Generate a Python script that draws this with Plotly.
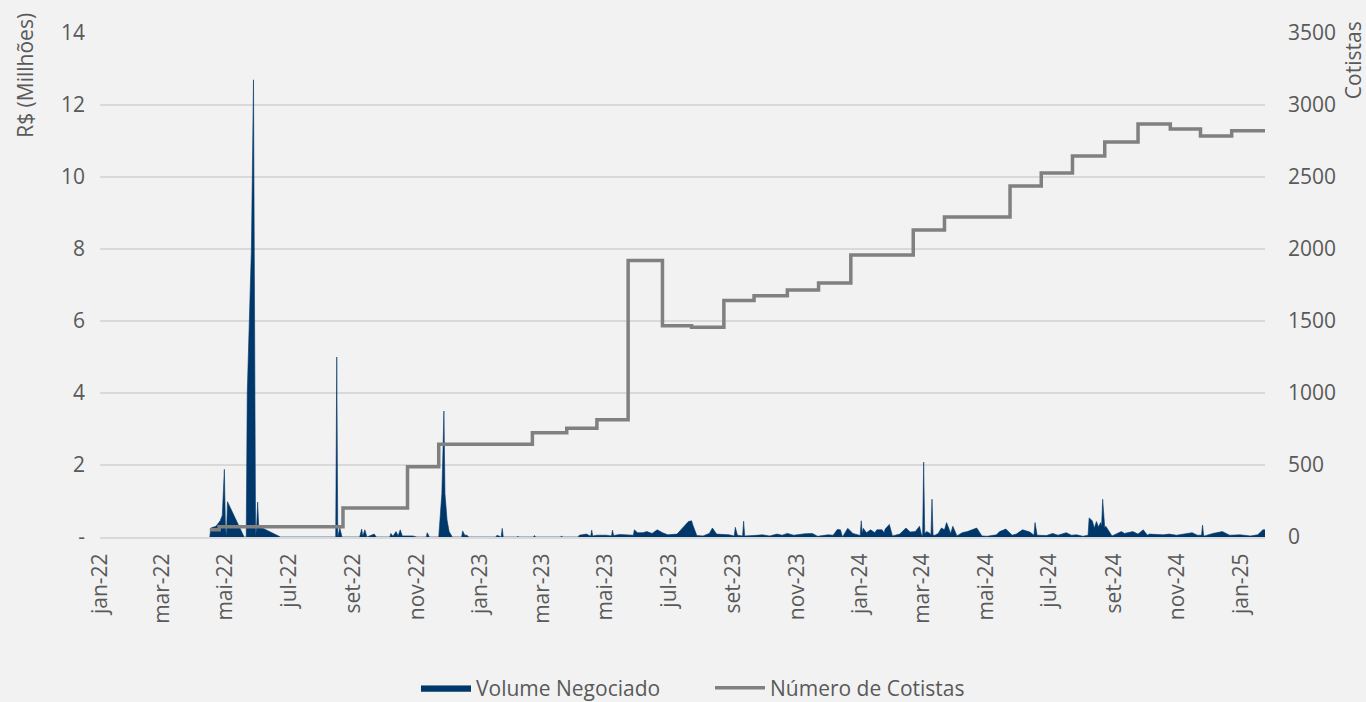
import plotly.graph_objects as go

# ---------------- data ----------------
TICK_DATES = ["2022-01-01", "2022-03-01", "2022-05-01", "2022-07-01", "2022-09-01", "2022-11-01",
              "2023-01-01", "2023-03-01", "2023-05-01", "2023-07-01", "2023-09-01", "2023-11-01",
              "2024-01-01", "2024-03-01", "2024-05-01", "2024-07-01", "2024-09-01", "2024-11-01",
              "2025-01-01"]
TICK_LABELS = ["jan-22", "mar-22", "mai-22", "jul-22", "set-22", "nov-22",
               "jan-23", "mar-23", "mai-23", "jul-23", "set-23", "nov-23",
               "jan-24", "mar-24", "mai-24", "jul-24", "set-24", "nov-24",
               "jan-25"]

LEFT_TICKS = [0, 2, 4, 6, 8, 10, 12, 14]
LEFT_LABELS = ["-", "2", "4", "6", "8", "10", "12", "14"]
RIGHT_TICKS = [0, 500, 1000, 1500, 2000, 2500, 3000, 3500]

# Volume negociado (R$ milhões) - (date, value)
VOL_2022 = [
    ("2022-04-16", 0), ("2022-04-17", 0.25), ("2022-04-22", 0.3), ("2022-04-26", 0.45),
    ("2022-04-28", 0.6), ("2022-04-30", 1.88), ("2022-05-01", 0.3), ("2022-05-02", 0.0),
    ("2022-05-03", 0.98), ("2022-05-11", 0.5), ("2022-05-19", 0.0), ("2022-05-21", 0.0),
    ("2022-05-22", 4.0), ("2022-05-24", 6.0), ("2022-05-26", 8.0), ("2022-05-28", 12.7),
    ("2022-05-29", 5.0), ("2022-05-30", 0.0), ("2022-05-31", 0.3), ("2022-06-01", 0.97),
    ("2022-06-02", 0.3), ("2022-06-12", 0.15), ("2022-06-23", 0.0),
    ("2022-08-15", 0.0), ("2022-08-16", 5.0), ("2022-08-17", 0.0), ("2022-08-19", 0.25),
    ("2022-08-21", 0.0), ("2022-09-07", 0.0), ("2022-09-09", 0.22), ("2022-09-10", 0.02),
    ("2022-09-12", 0.2), ("2022-09-14", 0.0), ("2022-09-21", 0.08), ("2022-09-23", 0.0),
    ("2022-10-06", 0.0), ("2022-10-07", 0.1), ("2022-10-09", 0.02), ("2022-10-12", 0.15),
    ("2022-10-14", 0.03), ("2022-10-16", 0.2), ("2022-10-18", 0.03), ("2022-10-28", 0.03),
    ("2022-11-01", 0.0), ("2022-11-10", 0.0), ("2022-11-11", 0.12), ("2022-11-13", 0.0),
    ("2022-11-22", 0.0), ("2022-11-25", 1.2), ("2022-11-26", 2.3), ("2022-11-27", 3.5),
    ("2022-11-28", 1.2), ("2022-11-30", 0.47), ("2022-12-02", 0.15), ("2022-12-05", 0.0),
    ("2022-12-14", 0.0), ("2022-12-15", 0.17), ("2022-12-17", 0.05), ("2022-12-19", 0.05),
    ("2022-12-21", 0.0),
]
VOL_2023 = [
    ("2023-01-16", 0.0), ("2023-01-17", 0.05), ("2023-01-21", 0.0), ("2023-01-22", 0.24),
    ("2023-01-23", 0.0), ("2023-02-05", 0.0), ("2023-02-06", 0.02), ("2023-02-07", 0.0),
    ("2023-02-21", 0.0), ("2023-02-22", 0.04), ("2023-02-23", 0.0), ("2023-03-19", 0.0),
    ("2023-03-20", 0.03), ("2023-03-21", 0.0), ("2023-04-05", 0.0), ("2023-04-06", 0.05),
    ("2023-04-13", 0.08), ("2023-04-17", 0.02), ("2023-04-18", 0.19), ("2023-04-19", 0.03),
    ("2023-04-23", 0.05), ("2023-05-02", 0.05), ("2023-05-07", 0.03), ("2023-05-08", 0.19),
    ("2023-05-09", 0.04), ("2023-05-15", 0.07), ("2023-05-22", 0.07), ("2023-05-28", 0.05),
    ("2023-05-29", 0.2), ("2023-06-01", 0.12), ("2023-06-06", 0.12), ("2023-06-10", 0.15),
    ("2023-06-15", 0.1), ("2023-06-20", 0.2), ("2023-06-25", 0.12), ("2023-06-30", 0.06),
    ("2023-07-09", 0.08), ("2023-07-13", 0.2), ("2023-07-18", 0.38), ("2023-07-20", 0.43),
    ("2023-07-23", 0.45), ("2023-07-24", 0.35), ("2023-07-28", 0.04), ("2023-08-03", 0.03),
    ("2023-08-09", 0.1), ("2023-08-12", 0.25), ("2023-08-16", 0.08), ("2023-08-22", 0.08),
    ("2023-08-28", 0.06), ("2023-09-02", 0.03), ("2023-09-03", 0.27), ("2023-09-05", 0.05),
    ("2023-09-10", 0.03), ("2023-09-11", 0.44), ("2023-09-12", 0.03), ("2023-09-20", 0.04),
    ("2023-09-29", 0.06), ("2023-10-06", 0.03), ("2023-10-13", 0.08), ("2023-10-18", 0.05),
    ("2023-10-23", 0.1), ("2023-10-29", 0.05), ("2023-11-02", 0.07), ("2023-11-09", 0.09),
    ("2023-11-16", 0.1), ("2023-11-21", 0.02), ("2023-12-01", 0.06), ("2023-12-06", 0.05),
    ("2023-12-10", 0.21), ("2023-12-13", 0.2), ("2023-12-15", 0.0), ("2023-12-20", 0.24),
    ("2023-12-25", 0.1), ("2023-12-30", 0.05),
]
VOL_2024 = [
    ("2024-01-01", 0.04), ("2024-01-02", 0.45), ("2024-01-03", 0.1), ("2024-01-04", 0.24),
    ("2024-01-07", 0.12), ("2024-01-11", 0.2), ("2024-01-15", 0.12), ("2024-01-17", 0.2),
    ("2024-01-22", 0.2), ("2024-01-24", 0.12), ("2024-01-25", 0.22), ("2024-01-29", 0.35),
    ("2024-02-01", 0.03), ("2024-02-08", 0.08), ("2024-02-14", 0.25), ("2024-02-18", 0.14),
    ("2024-02-23", 0.15), ("2024-02-27", 0.3), ("2024-02-29", 0.05), ("2024-03-01", 0.05),
    ("2024-03-02", 2.08), ("2024-03-03", 0.1), ("2024-03-05", 0.15), ("2024-03-08", 0.1),
    ("2024-03-09", 0.05), ("2024-03-10", 1.05), ("2024-03-11", 0.05), ("2024-03-13", 0.05),
    ("2024-03-16", 0.1), ("2024-03-19", 0.25), ("2024-03-22", 0.2), ("2024-03-24", 0.4),
    ("2024-03-28", 0.1), ("2024-03-30", 0.3), ("2024-04-03", 0.03), ("2024-04-08", 0.12),
    ("2024-04-13", 0.15), ("2024-04-22", 0.25), ("2024-04-27", 0.03), ("2024-05-02", 0.02),
    ("2024-05-11", 0.06), ("2024-05-14", 0.15), ("2024-05-20", 0.22), ("2024-05-26", 0.05),
    ("2024-05-30", 0.08), ("2024-06-05", 0.2), ("2024-06-12", 0.14), ("2024-06-16", 0.05),
    ("2024-06-17", 0.4), ("2024-06-19", 0.05), ("2024-06-28", 0.04), ("2024-07-04", 0.1),
    ("2024-07-09", 0.05), ("2024-07-17", 0.12), ("2024-07-22", 0.05), ("2024-07-27", 0.06),
    ("2024-08-02", 0.02), ("2024-08-07", 0.05), ("2024-08-08", 0.53), ("2024-08-11", 0.45),
    ("2024-08-13", 0.25), ("2024-08-15", 0.43), ("2024-08-17", 0.28), ("2024-08-19", 0.4),
    ("2024-08-20", 0.3), ("2024-08-21", 1.05), ("2024-08-23", 0.25), ("2024-08-24", 0.3),
    ("2024-08-26", 0.2), ("2024-08-30", 0.03), ("2024-09-04", 0.1), ("2024-09-08", 0.15),
    ("2024-09-11", 0.1), ("2024-09-19", 0.15), ("2024-09-24", 0.08), ("2024-09-29", 0.2),
    ("2024-10-03", 0.05), ("2024-10-05", 0.08), ("2024-10-18", 0.06), ("2024-10-24", 0.08),
    ("2024-10-31", 0.05), ("2024-11-10", 0.1), ("2024-11-15", 0.12), ("2024-11-20", 0.05),
    ("2024-11-24", 0.05), ("2024-11-25", 0.33), ("2024-11-26", 0.05), ("2024-11-27", 0.03),
    ("2024-12-05", 0.1), ("2024-12-14", 0.15), ("2024-12-21", 0.05), ("2024-12-31", 0.06),
]
VOL_2025 = [
    ("2025-01-10", 0.03), ("2025-01-17", 0.06), ("2025-01-22", 0.2), ("2025-01-24", 0.2),
]

# Número de cotistas (step series)
COT_DATES = ["2022-04-16", "2022-04-25", "2022-08-22", "2022-10-23", "2022-11-22", "2023-02-20",
             "2023-03-25", "2023-04-23", "2023-05-23", "2023-06-25", "2023-07-23", "2023-08-23",
             "2023-09-21", "2023-10-23", "2023-11-22", "2023-12-23", "2024-02-21", "2024-03-22",
             "2024-05-24", "2024-06-23", "2024-07-23", "2024-08-23", "2024-09-24", "2024-10-25",
             "2024-11-23", "2024-12-23", "2025-01-24"]
COT_VALUES = [50, 72, 201, 488, 644, 724, 755, 815, 1920, 1467, 1456, 1643,
              1675, 1715, 1764, 1958, 2132, 2222, 2437, 2528, 2646, 2743, 2868, 2833,
              2785, 2821, 2821]

# ---------------- figure ----------------
vol = VOL_2022 + VOL_2023 + VOL_2024 + VOL_2025
vol_dates = [d for d, _ in vol]
vol_values = [v for _, v in vol]

NAVY = "#00376A"
GREY = "#808080"
TXT = "#595959"
FONT = "Open Sans"
FS = 21

fig = go.Figure()
fig.add_trace(go.Scatter(
    x=vol_dates, y=vol_values, name="Volume Negociado",
    mode="lines", fill="tozeroy", fillcolor=NAVY,
    line=dict(color=NAVY, width=0.6), yaxis="y",
))
fig.add_trace(go.Scatter(
    x=COT_DATES, y=COT_VALUES, name="Número de Cotistas",
    mode="lines", line=dict(color=GREY, width=3.5, shape="hv"), yaxis="y2",
))

fig.update_layout(
    width=1366, height=702,
    paper_bgcolor="#F2F2F2", plot_bgcolor="#F2F2F2",
    margin=dict(l=100, r=101, t=33, b=165, autoexpand=False),
    font=dict(family=FONT, size=FS, color=TXT),
    showlegend=True,
    legend=dict(orientation="h", x=0.5236, xanchor="center", y=-0.300, yanchor="middle",
                font=dict(family=FONT, size=FS, color=TXT), bgcolor="rgba(0,0,0,0)",
                itemwidth=50, entrywidth=229, tracegroupgap=0),
    xaxis=dict(
        type="date", range=["2021-12-31 12:00", "2025-01-24"],
        tickmode="array", tickvals=TICK_DATES, ticktext=TICK_LABELS,
        tickangle=-90, showgrid=False, zeroline=False,
        showline=True, linecolor="#D9D9D9", linewidth=2,
        ticks="", ticklabelstandoff=6,
        tickfont=dict(family=FONT, size=FS, color=TXT),
    ),
    yaxis=dict(
        range=[0, 14], tickmode="array", tickvals=LEFT_TICKS, ticktext=LEFT_LABELS,
        showgrid=True, gridcolor="#D9D9D9", gridwidth=2, zeroline=False,
        ticks="", ticklabelstandoff=14, showline=False,
        tickfont=dict(family=FONT, size=FS, color=TXT),
    ),
    yaxis2=dict(
        range=[0, 3500], tickmode="array", tickvals=RIGHT_TICKS,
        ticktext=[str(v) for v in RIGHT_TICKS],
        overlaying="y", side="right", showgrid=False, zeroline=False,
        ticks="", ticklabelstandoff=22, showline=False,
        tickfont=dict(family=FONT, size=FS, color=TXT),
    ),
    annotations=[
        dict(text="R$ (Millhões)", xref="paper", yref="paper", x=-0.0644, y=0.917,
             textangle=-90, showarrow=False, xanchor="center", yanchor="middle",
             font=dict(family=FONT, size=FS, color=TXT)),
        dict(text="Cotistas", xref="paper", yref="paper", x=1.0755, y=0.946,
             textangle=-90, showarrow=False, xanchor="center", yanchor="middle",
             font=dict(family=FONT, size=FS, color=TXT)),
    ],
)

fig.write_html(
    "out.html",
    config={"displayModeBar": False},
    post_script="document.body.style.margin='0';document.body.style.background='#F2F2F2';",
)
